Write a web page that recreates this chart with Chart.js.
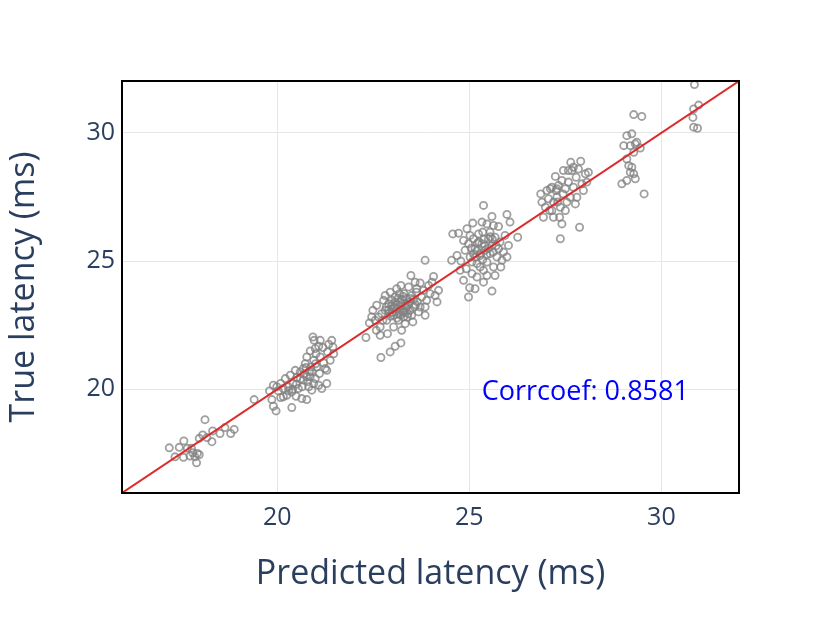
<!DOCTYPE html>
<html>
<head>
<meta charset="utf-8">
<script src="https://cdn.jsdelivr.net/npm/chart.js@4.4.1/dist/chart.umd.min.js"></script>
<style>
  html, body { margin: 0; padding: 0; background: #fff; }
  #wrap { width: 831px; height: 626px; }
</style>
</head>
<body>
<div id="wrap"><canvas id="latChart" width="831" height="626"></canvas></div>
<script>
// axis ranges (same on both axes, the red line is y = x)
const axisRange = [15.96, 32.02];
const xTicks = [20, 25, 30];
const yTicks = [20, 25, 30];
const xTitle = "Predicted latency (ms)";
const yTitle = "True latency (ms)";
const corrText = "Corrcoef: 0.8581";
const corrAt = [28.02, 19.89];

// [predicted, true] pairs
const predVsTrue = [
  // ~17-19 ms
  [17.19,17.72],[17.34,17.37],[17.45,17.74],[17.57,17.99],[17.56,17.35],[17.66,17.70],
  [17.73,17.40],[17.80,17.53],[17.86,17.37],[17.92,17.50],[17.97,17.45],[17.90,17.14],
  [17.77,17.70],[18.12,18.82],[18.06,18.22],[17.97,18.09],[18.17,18.12],[18.32,18.38],
  [18.30,17.96],[18.51,18.28],[18.64,18.51],[18.79,18.28],[18.88,18.44],[19.40,19.60],
  // ~20-21 ms
  [19.80,19.94],[19.90,20.16],[19.99,20.10],[19.86,19.60],[19.90,19.34],[19.97,19.16],
  [20.03,19.94],[20.09,20.23],[20.16,19.71],[20.21,20.42],[20.25,19.77],[20.29,20.10],
  [20.34,20.55],[20.38,19.29],[20.41,20.23],[20.47,20.74],[20.49,19.73],[20.51,20.46],
  [20.55,20.03],[20.60,20.68],[20.64,19.64],[20.68,20.36],[20.73,21.00],[20.77,19.60],
  [20.77,21.26],[20.82,20.10],[20.84,20.68],[20.86,21.50],[20.90,19.97],[20.93,22.04],
  [20.95,21.13],[20.96,21.91],[20.99,20.42],[21.01,21.39],[21.03,20.87],[21.08,21.68],
  [21.10,20.62],[21.12,21.26],[21.16,20.03],[21.21,21.03],[21.25,20.81],[21.29,20.23],
  [21.31,21.46],[21.34,21.76],[21.38,21.13],[21.42,21.91],[21.45,21.65],[21.47,21.39],
  [21.29,20.74],[20.88,20.87],[20.68,20.81],[20.77,20.49],[20.95,20.23],[21.08,20.16],
  [20.38,19.90],[20.16,20.03],[20.09,19.68],[20.86,20.49],[20.99,21.59],[21.19,21.63],
  [21.12,21.91],[20.60,20.40],[20.70,20.60],[20.50,20.20],[20.80,20.30],[20.40,20.00],
  [20.65,20.10],[20.90,20.70],[21.00,21.00],[20.30,19.95],[20.75,20.85],
  // ~22-24 ms
  [22.31,22.02],[22.70,21.24],[22.94,21.46],[23.07,21.68],[23.22,21.81],[22.40,22.59],
  [22.59,23.28],[22.64,22.82],[22.68,22.43],[22.77,23.47],[22.81,23.08],[22.85,22.69],
  [22.87,22.17],[22.94,23.79],[22.98,23.28],[23.03,22.89],[23.07,23.60],[23.11,23.15],
  [23.16,22.69],[23.20,23.41],[23.22,24.05],[23.27,23.02],[23.30,23.73],[23.33,22.56],
  [23.37,23.24],[23.42,23.99],[23.46,23.54],[23.48,24.44],[23.50,22.89],[23.53,22.63],
  [23.57,23.21],[23.62,23.79],[23.65,23.41],[23.68,23.02],[23.72,24.15],[23.76,23.60],
  [23.81,23.86],[23.85,23.21],[23.89,23.47],[23.94,24.05],[23.98,23.73],[24.03,24.18],
  [24.07,24.40],[24.11,23.66],[24.16,23.41],[24.20,23.86],[22.72,22.95],[22.90,23.34],
  [23.03,22.43],[23.18,23.73],[23.33,23.34],[23.46,23.08],[23.59,24.18],[23.72,23.21],
  [23.85,22.89],[22.58,22.30],[22.81,23.66],[23.11,23.92],[23.24,22.30],[23.39,22.82],
  [22.49,23.08],[22.75,22.69],[22.92,22.98],[23.07,23.41],[23.29,22.82],[23.50,23.66],
  [23.63,23.92],[23.01,23.15],[23.16,22.95],[23.37,23.54],[22.84,23.21],[22.68,22.11],
  [22.55,22.69],[22.46,22.82],[23.85,25.03],[23.00,23.00],[23.10,23.30],[23.20,23.10],
  [23.30,23.00],[23.25,23.50],[23.40,23.30],[23.15,23.55],[22.95,22.85],[23.05,23.20],
  [23.35,23.15],[23.45,23.40],[22.90,23.10],[23.20,22.90],[23.55,23.50],[23.12,22.78],
  [23.28,23.62],[23.40,22.95],[22.98,23.48],[23.60,23.30],[23.22,23.25],
  // ~25 ms
  [25.37,27.17],[24.57,26.06],[24.72,26.09],[24.94,26.26],[25.09,26.48],[25.33,26.52],
  [25.46,26.45],[25.59,26.74],[25.63,26.39],[25.76,26.35],[25.98,26.82],[26.06,26.52],
  [26.26,25.93],[24.68,25.22],[24.54,25.03],[24.78,25.00],[24.89,25.42],[24.98,25.68],
  [25.02,25.16],[25.11,25.87],[25.15,25.48],[25.20,24.90],[25.24,26.06],[25.28,25.22],
  [25.33,25.68],[25.37,24.64],[25.41,25.42],[25.46,24.96],[25.50,25.87],[25.54,25.29],
  [25.59,25.61],[25.63,24.77],[25.67,25.93],[25.72,25.16],[25.76,25.48],[25.80,25.74],
  [25.85,25.03],[25.89,25.35],[25.93,26.00],[25.98,25.16],[26.02,25.61],[24.85,24.25],
  [25.01,23.96],[24.98,23.60],[25.07,24.51],[25.20,24.38],[25.37,24.18],[25.59,23.83],
  [25.15,23.92],[25.28,24.77],[25.07,24.96],[24.92,24.70],[24.76,24.64],[25.46,24.44],
  [25.11,25.29],[25.54,26.13],[25.02,26.00],[24.85,25.80],[25.21,25.70],[25.35,26.13],
  [25.67,24.44],[25.82,24.77],[25.30,25.30],[25.40,25.60],[25.20,25.40],[25.50,25.50],
  [25.35,25.05],[25.45,25.25],[25.60,25.85],[25.25,25.75],[25.15,25.15],[25.70,25.60],
  [25.55,25.95],[25.05,25.50],[25.38,25.85],[25.62,25.35],
  // ~27-28 ms
  [26.86,27.62],[26.89,27.30],[26.93,26.71],[26.98,27.10],[27.02,27.75],[27.06,27.43],
  [27.11,27.82],[27.15,26.97],[27.19,27.30],[27.24,28.30],[27.26,27.75],[27.28,27.49],
  [27.32,27.95],[27.35,26.71],[27.37,27.10],[27.37,25.87],[27.41,26.45],[27.44,27.62],
  [27.45,28.53],[27.50,27.82],[27.54,27.30],[27.58,28.08],[27.63,27.49],[27.64,28.85],
  [27.67,28.53],[27.71,27.88],[27.76,27.23],[27.78,28.27],[27.80,27.49],[27.84,28.59],
  [27.87,26.32],[27.90,28.89],[27.93,28.01],[27.97,27.75],[28.02,28.40],[28.06,28.08],
  [28.10,28.46],[27.19,26.71],[27.09,26.97],[27.50,26.97],[27.30,27.30],[27.58,28.53],
  [27.71,28.66],[27.41,28.14],[27.15,27.88],[27.28,27.82],
  // ~29 ms
  [29.28,30.71],[29.49,30.64],[29.02,29.50],[29.10,29.89],[29.23,29.96],[29.19,29.50],
  [29.32,29.57],[29.36,29.63],[29.45,29.41],[29.28,29.24],[29.10,28.98],[29.15,28.72],
  [29.19,28.46],[29.23,28.66],[29.32,28.21],[28.97,28.01],[29.10,28.14],[29.55,27.62],
  [29.28,28.40],
  // ~31 ms
  [30.86,31.88],[30.97,31.08],[30.84,30.93],[30.82,30.60],[30.84,30.22],[30.94,30.18]
];

const inkBlue = "#2a3f5f";
const fontFamily = "'Open Sans', 'DejaVu Sans', sans-serif";

// black frame round the plot area + correlation note
const framePlugin = {
  id: "frame",
  afterDatasetsDraw(chart) {
    const { ctx, chartArea: a, scales } = chart;
    ctx.save();
    ctx.strokeStyle = "#000";
    ctx.lineWidth = 2;
    ctx.strokeRect(a.left, a.top, a.right - a.left, a.bottom - a.top);

    ctx.fillStyle = "#0000ff";
    ctx.font = "27px " + fontFamily;
    ctx.textAlign = "center";
    ctx.textBaseline = "middle";
    ctx.fillText(corrText, scales.x.getPixelForValue(corrAt[0]), scales.y.getPixelForValue(corrAt[1]));
    ctx.restore();
  }
};

const setTicks = list => scale => { scale.ticks = list.map(v => ({ value: v })); };

new Chart(document.getElementById("latChart"), {
  data: {
    datasets: [
      {
        type: "line",
        label: "y = x",
        data: axisRange.map(v => ({ x: v, y: v })),
        borderColor: "#dd2a2a",
        borderWidth: 1.9,
        pointRadius: 0,
        fill: false,
        order: 0
      },
      {
        type: "scatter",
        label: "samples",
        data: predVsTrue.map(p => ({ x: p[0], y: p[1] })),
        pointStyle: "circle",
        pointRadius: 3.6,
        pointBorderWidth: 1.8,
        pointBorderColor: "rgba(128,128,128,0.75)",
        pointBackgroundColor: "rgba(0,0,0,0)",
        order: 1
      }
    ]
  },
  options: {
    responsive: false,
    animation: false,
    layout: { padding: { top: 81, right: 92, left: 0, bottom: 0 } },
    plugins: { legend: { display: false }, tooltip: { enabled: false } },
    scales: {
      x: {
        type: "linear",
        min: axisRange[0],
        max: axisRange[1],
        afterBuildTicks: setTicks(xTicks),
        afterFit(scale) { scale.height = 133; },
        grid: { color: "#e6e6e6", lineWidth: 1, drawTicks: false },
        border: { display: false },
        ticks: { color: inkBlue, padding: 10, font: { family: fontFamily, size: 25 } },
        title: {
          display: true, text: xTitle, color: inkBlue,
          font: { family: fontFamily, size: 34 },
          padding: { top: 4, bottom: 31 }
        }
      },
      y: {
        type: "linear",
        min: axisRange[0],
        max: axisRange[1],
        afterBuildTicks: setTicks(yTicks),
        afterFit(scale) { scale.width = 122; },
        grid: { color: "#e6e6e6", lineWidth: 1, drawTicks: false },
        border: { display: false },
        ticks: { color: inkBlue, padding: 7, font: { family: fontFamily, size: 25 } },
        title: {
          display: true, text: yTitle, color: inkBlue,
          font: { family: fontFamily, size: 34 },
          padding: { top: 4, bottom: 4 }
        }
      }
    }
  },
  plugins: [framePlugin]
});
</script>
</body>
</html>
